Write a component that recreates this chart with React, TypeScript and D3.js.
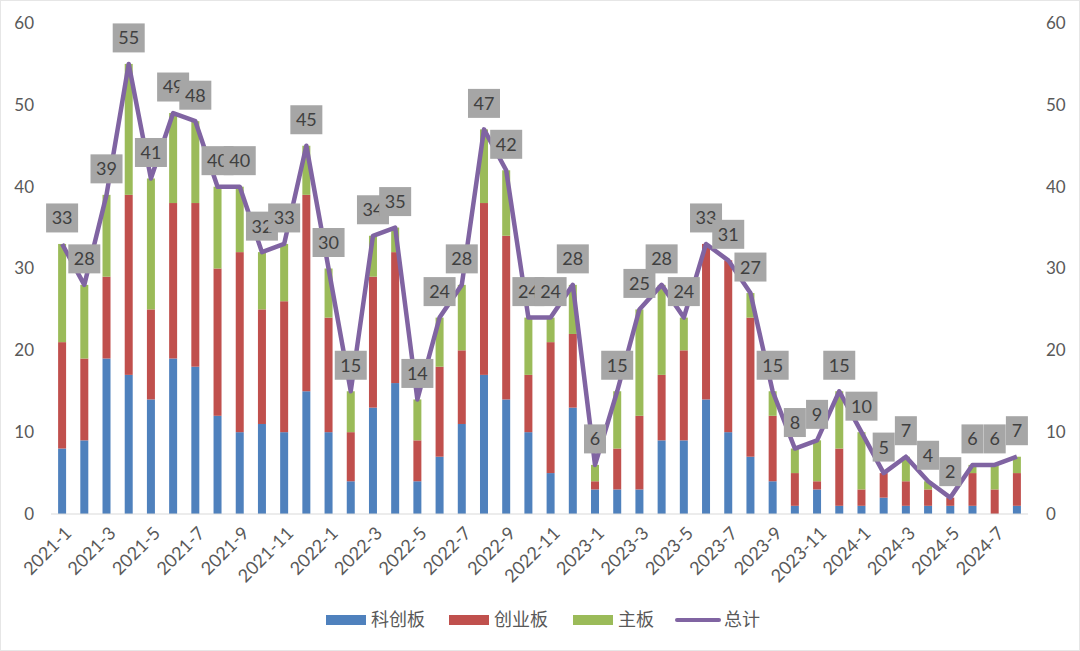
import React from 'react';
import * as d3 from 'd3';

// months shown on the x axis (one bar per month)
const months: string[] = [
    '2021-1', '2021-2', '2021-3', '2021-4', '2021-5', '2021-6', '2021-7', '2021-8', '2021-9', '2021-10', '2021-11', '2021-12',
    '2022-1', '2022-2', '2022-3', '2022-4', '2022-5', '2022-6', '2022-7', '2022-8', '2022-9', '2022-10', '2022-11', '2022-12',
    '2023-1', '2023-2', '2023-3', '2023-4', '2023-5', '2023-6', '2023-7', '2023-8', '2023-9', '2023-10', '2023-11', '2023-12',
    '2024-1', '2024-2', '2024-3', '2024-4', '2024-5', '2024-6', '2024-7', '2024-8',
];

const kechuang: number[] = [
    8, 9, 19, 17, 14, 19, 18, 12, 10, 11, 10, 15,
    10, 4, 13, 16, 4, 7, 11, 17, 14, 10, 5, 13,
    3, 3, 3, 9, 9, 14, 10, 7, 4, 1, 3, 1,
    1, 2, 1, 1, 1, 1, 0, 1,
];

const chuangye: number[] = [
    13, 10, 10, 22, 11, 19, 20, 18, 22, 14, 16, 24,
    14, 6, 16, 16, 5, 11, 9, 21, 20, 7, 16, 9,
    1, 5, 9, 8, 11, 19, 21, 17, 8, 4, 1, 7,
    2, 3, 3, 2, 1, 4, 3, 4,
];

const zhuban: number[] = [
    12, 9, 10, 16, 16, 11, 10, 10, 8, 7, 7, 6,
    6, 5, 5, 3, 5, 6, 8, 9, 8, 7, 3, 6,
    2, 7, 13, 11, 4, 0, 0, 3, 3, 3, 5, 7,
    7, 0, 3, 1, 0, 1, 3, 2,
];

const total: number[] = [
    33, 28, 39, 55, 41, 49, 48, 40, 40, 32, 33, 45,
    30, 15, 34, 35, 14, 24, 28, 47, 42, 24, 24, 28,
    6, 15, 25, 28, 24, 33, 31, 27, 15, 8, 9, 15,
    10, 5, 7, 4, 2, 6, 6, 7,
];

const yTicks: number[] = [0, 10, 20, 30, 40, 50, 60];

const seriesNames = ['科创板', '创业板', '主板'];
const colors = ['#4F81BD', '#C0504D', '#9BBB59'];
const lineColor = '#8064A2';

const W = 1080;
const H = 651;
const numFont = 'Lato, "Noto Sans", sans-serif';
const cjkFont = '"Noto Sans CJK SC", "Noto Sans", sans-serif';

const App: React.FC = () => {
    const x = d3.scaleBand<string>()
        .domain(months)
        .range([51, 1028])
        .paddingInner(0.64)
        .paddingOuter(0.32);

    const y = d3.scaleLinear().domain([0, 60]).range([514, 23]);

    const rows = months.map((m, i) => ({ month: m, k: kechuang[i], c: chuangye[i], z: zhuban[i] }));
    const stacked = d3.stack<any>().keys(['k', 'c', 'z'])(rows);

    const cx = (m: string) => (x(m) ?? 0) + x.bandwidth() / 2;

    const line = d3.line<number>()
        .x((_, i) => cx(months[i]))
        .y(d => y(d));

    return (
        <svg width={W} height={H} style={{ position: 'absolute', left: 0, top: 0, background: '#fff' }}>
            <rect x={0.5} y={0.5} width={W - 1} height={H - 1} fill="#fff" stroke="#e6e6e6" />

            {/* y axis labels, both sides */}
            {yTicks.map(t => (
                <g key={t}>
                    <text x={34} y={y(t)} dy="0.35em" textAnchor="end" fontSize={17} fill="#595959" fontFamily={numFont}>{t}</text>
                    <text x={1046} y={y(t)} dy="0.35em" textAnchor="start" fontSize={17} fill="#595959" fontFamily={numFont}>{t}</text>
                </g>
            ))}

            {/* stacked bars */}
            {stacked.map((s, si) => (
                <g key={si} fill={colors[si]}>
                    {s.map((d, i) => (
                        <rect key={i} x={x(months[i])} width={x.bandwidth()}
                            y={y(d[1])} height={Math.max(0, y(d[0]) - y(d[1]))} />
                    ))}
                </g>
            ))}

            <line x1={51} x2={1028} y1={y(0)} y2={y(0)} stroke="#d9d9d9" strokeWidth={1} />

            {/* x axis labels, every other month */}
            {months.map((m, i) => i % 2 === 0 ? (
                <text key={m} transform={`translate(${cx(m) + 6},${y(0) + 16}) rotate(-45)`}
                    textAnchor="end" dy="0.35em" fontSize={18} fill="#595959" fontFamily={numFont}>{m}</text>
            ) : null)}

            {/* total line */}
            <path d={line(total) ?? ''} fill="none" stroke={lineColor} strokeWidth={4.5} strokeLinejoin="round" />

            {/* data labels */}
            {total.map((v, i) => {
                const w = String(v).length > 1 ? 32 : 22;
                const px = cx(months[i]);
                const py = y(v) - 26;
                return (
                    <g key={i}>
                        <rect x={px - w / 2} y={py - 14.5} width={w} height={29} fill="#A6A6A6" />
                        <text x={px} y={py} dy="0.36em" textAnchor="middle" fontSize={18} fill="#404040" fontFamily={numFont}>{v}</text>
                    </g>
                );
            })}

            {/* legend */}
            <g fontFamily={cjkFont} fontSize={18} fill="#595959">
                {seriesNames.map((n, i) => {
                    const lx = [326, 449, 573][i];
                    return (
                        <g key={n}>
                            <rect x={lx} y={615} width={40} height={10} fill={colors[i]} />
                            <text x={lx + 45} y={620} dy="0.35em">{n}</text>
                        </g>
                    );
                })}
                <line x1={677} x2={719} y1={620} y2={620} stroke={lineColor} strokeWidth={4} strokeLinecap="round" />
                <text x={724} y={620} dy="0.35em">总计</text>
            </g>
        </svg>
    );
};

export default App;
